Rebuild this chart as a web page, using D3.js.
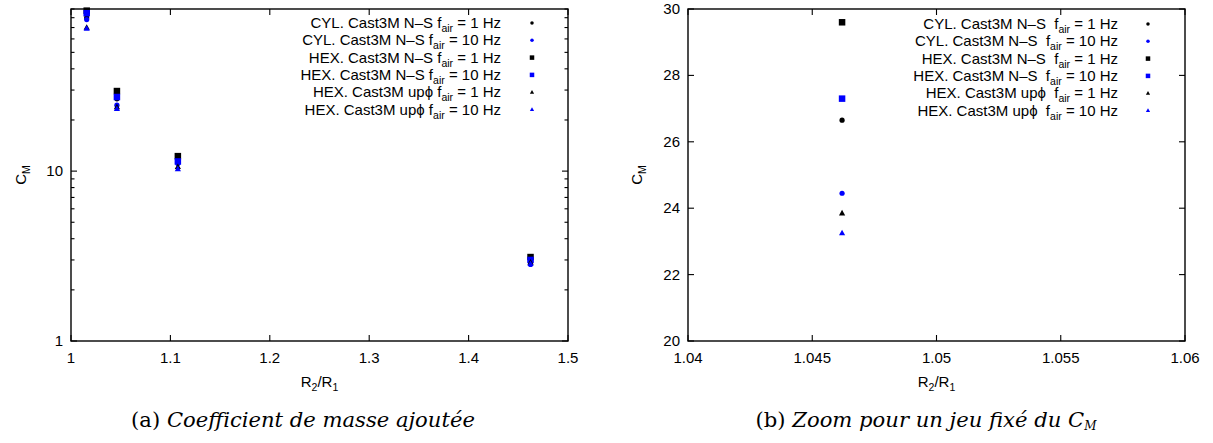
<!DOCTYPE html>
<html><head><meta charset="utf-8">
<script src="https://cdn.jsdelivr.net/npm/d3@7/dist/d3.min.js"></script>
<style>
html,body{margin:0;padding:0;background:#fff;}
svg{display:block;}
text{font-family:"Liberation Sans",Arial,sans-serif;fill:#000;}
.cap{font-family:"DejaVu Serif","Liberation Serif",serif;}
</style></head>
<body>
<svg id="c" width="1213" height="443"></svg>
<script>
// ---- data ----
const ratios = [1.0158, 1.0462, 1.1075, 1.4623];          // R2/R1
const cylNS1  = [80, 26.65, 11.4, 2.95];                   // CYL. Cast3M N-S f=1 Hz
const cylNS10 = [78, 24.45, 11.1, 2.82];                   // CYL. Cast3M N-S f=10 Hz
const hexNS1  = [88, 29.6, 12.25, 3.12];                   // HEX. Cast3M N-S f=1 Hz
const hexNS10 = [85, 27.3, 11.4, 3.0];                     // HEX. Cast3M N-S f=10 Hz
const hexUp1  = [70, 23.85, 10.6, 2.9];                    // HEX. Cast3M upphi f=1 Hz
const hexUp10 = [69, 23.25, 10.3, 2.85];                   // HEX. Cast3M upphi f=10 Hz
const seriesNames = ["CYL. Cast3M N\u2013S", "CYL. Cast3M N\u2013S", "HEX. Cast3M N\u2013S", "HEX. Cast3M N\u2013S", "HEX. Cast3M up\u03d5", "HEX. Cast3M up\u03d5"];
const seriesFreq = ["1 Hz", "10 Hz", "1 Hz", "10 Hz", "1 Hz", "10 Hz"];
const leftXTicks = [1, 1.1, 1.2, 1.3, 1.4, 1.5];
const leftYTicks = [1, 10];
const rightXTicks = [1.04, 1.045, 1.05, 1.055, 1.06];
const rightYTicks = [20, 22, 24, 26, 28, 30];
const captionA = ["(a) ", "Coefficient de masse ajoutée"];
const captionB = ["(b) ", "Zoom pour un jeu fixé du C", "M"];

const seriesVals = [cylNS1, cylNS10, hexNS1, hexNS10, hexUp1, hexUp10];
const seriesColor = ["#000", "#0000ff", "#000", "#0000ff", "#000", "#0000ff"];
const seriesShape = ["circle", "circle", "square", "square", "triangle", "triangle"];

const svg = d3.select("#c");
const FS = 15;

function marker(g, shape, x, y, s, color) {
  if (shape === "circle") {
    g.append("circle").attr("cx", x).attr("cy", y).attr("r", s * 0.42).attr("fill", color);
  } else if (shape === "square") {
    g.append("rect").attr("x", x - s / 2).attr("y", y - s / 2).attr("width", s).attr("height", s).attr("fill", color);
  } else {
    const h = s * 0.9;
    g.append("path").attr("d", `M${x},${y - h * 0.6}L${x + s / 2},${y + h * 0.4}L${x - s / 2},${y + h * 0.4}Z`).attr("fill", color);
  }
}

function panel(opt) {
  const {x0, x1, y0, y1, xs, ys, xTicks, yTicks, yMinor, xFmt, yFmt, legendTextX, legendMarkX, legendY0, legendDY, sep, ylabelX} = opt;
  const g = svg.append("g");
  const pts = g.append("g");
  const [dx0, dx1] = xs.domain();
  const [dy0, dy1] = ys.domain();
  seriesVals.forEach((vals, si) => {
    vals.forEach((v, i) => {
      const xv = ratios[i];
      if (xv < dx0 || xv > dx1 || v < dy0 || v > dy1) return;
      const sz = seriesShape[si] === "square" ? 6.5 : 6.2;
      marker(pts, seriesShape[si], xs(xv), ys(v), sz, seriesColor[si]);
    });
  });
  const tk = g.append("g").attr("stroke", "#000").attr("stroke-width", 1.1);
  xTicks.forEach(t => {
    const x = xs(t);
    tk.append("line").attr("x1", x).attr("x2", x).attr("y1", y1).attr("y2", y1 - 6);
    tk.append("line").attr("x1", x).attr("x2", x).attr("y1", y0).attr("y2", y0 + 6);
  });
  yTicks.forEach(t => {
    const y = ys(t);
    tk.append("line").attr("x1", x0).attr("x2", x0 + 6).attr("y1", y).attr("y2", y);
    tk.append("line").attr("x1", x1).attr("x2", x1 - 6).attr("y1", y).attr("y2", y);
  });
  (yMinor || []).forEach(t => {
    const y = ys(t);
    tk.append("line").attr("x1", x0).attr("x2", x0 + 3.5).attr("y1", y).attr("y2", y);
    tk.append("line").attr("x1", x1).attr("x2", x1 - 3.5).attr("y1", y).attr("y2", y);
  });
  g.append("rect").attr("x", x0).attr("y", y0).attr("width", x1 - x0).attr("height", y1 - y0)
    .attr("fill", "none").attr("stroke", "#000").attr("stroke-width", 1.4);
  xTicks.forEach(t => {
    g.append("text").attr("x", xs(t)).attr("y", y1 + 22).attr("text-anchor", "middle")
      .attr("font-size", FS).text(xFmt(t));
  });
  yTicks.forEach(t => {
    g.append("text").attr("x", x0 - 8).attr("y", ys(t) + 5).attr("text-anchor", "end")
      .attr("font-size", FS).text(yFmt(t));
  });
  const xl = g.append("text").attr("x", (x0 + x1) / 2).attr("y", y1 + 46).attr("text-anchor", "middle").attr("font-size", FS);
  xl.append("tspan").text("R");
  xl.append("tspan").attr("font-size", 10.5).attr("dy", 4).text("2");
  xl.append("tspan").attr("dy", -4).text("/R");
  xl.append("tspan").attr("font-size", 10.5).attr("dy", 4).text("1");
  const yl = g.append("text").attr("transform", `translate(${ylabelX},${(y0 + y1) / 2}) rotate(-90)`)
    .attr("text-anchor", "middle").attr("font-size", FS);
  yl.append("tspan").text("C");
  yl.append("tspan").attr("font-size", 10.5).attr("dy", 4).text("M");
  seriesNames.forEach((nm, i) => {
    const y = legendY0 + i * legendDY;
    const t = g.append("text").attr("x", legendTextX).attr("y", y + 5).attr("text-anchor", "end")
      .attr("font-size", FS);
    t.append("tspan").text(nm + sep + "f");
    t.append("tspan").attr("font-size", 10.5).attr("dy", 4).text("air");
    t.append("tspan").attr("dy", -4).text(" = " + seriesFreq[i]);
    const sz = seriesShape[i] === "square" ? 4.5 : 4.2;
    marker(g, seriesShape[i], legendMarkX, y, sz, seriesColor[i]);
  });
}

const xsL = d3.scaleLinear().domain([1, 1.5]).range([71, 568]);
const ysL = d3.scaleLog().domain([1, 90]).range([341, 9]);
const minorL = [];
[1, 10].forEach(d => { for (let k = 2; k <= 9; k++) if (k * d <= 90) minorL.push(k * d); });
panel({x0: 71, x1: 568, y0: 9, y1: 341, xs: xsL, ys: ysL, xTicks: leftXTicks, yTicks: leftYTicks, yMinor: minorL,
  xFmt: d => String(d), yFmt: d => String(d), legendTextX: 501, legendMarkX: 532, legendY0: 23, legendDY: 17.3,
  sep: " ", ylabelX: 26});

const xsR = d3.scaleLinear().domain([1.04, 1.06]).range([688, 1185]);
const ysR = d3.scaleLinear().domain([20, 30]).range([341, 9]);
panel({x0: 688, x1: 1185, y0: 9, y1: 341, xs: xsR, ys: ysR, xTicks: rightXTicks, yTicks: rightYTicks, yMinor: [],
  xFmt: d => String(+d.toFixed(3)), yFmt: d => String(d), legendTextX: 1118, legendMarkX: 1148, legendY0: 24, legendDY: 17.3,
  sep: "\u00a0\u00a0", ylabelX: 642});

function caption(parts, cx, y, targetW) {
  const t = svg.append("text").attr("class", "cap").attr("x", cx).attr("y", y).attr("text-anchor", "middle").attr("font-size", 17);
  t.append("tspan").text(parts[0]);
  t.append("tspan").attr("font-style", "italic").text(parts[1]);
  if (parts.length > 2) t.append("tspan").attr("font-style", "italic").attr("font-size", 12).attr("dy", 3).text(parts[2]);
  const w = t.node().getComputedTextLength();
  t.attr("font-size", 17 * targetW / w);
}
caption(captionA, 303, 427, 344);
caption(captionB, 926, 427, 344);
</script>
</body></html>
